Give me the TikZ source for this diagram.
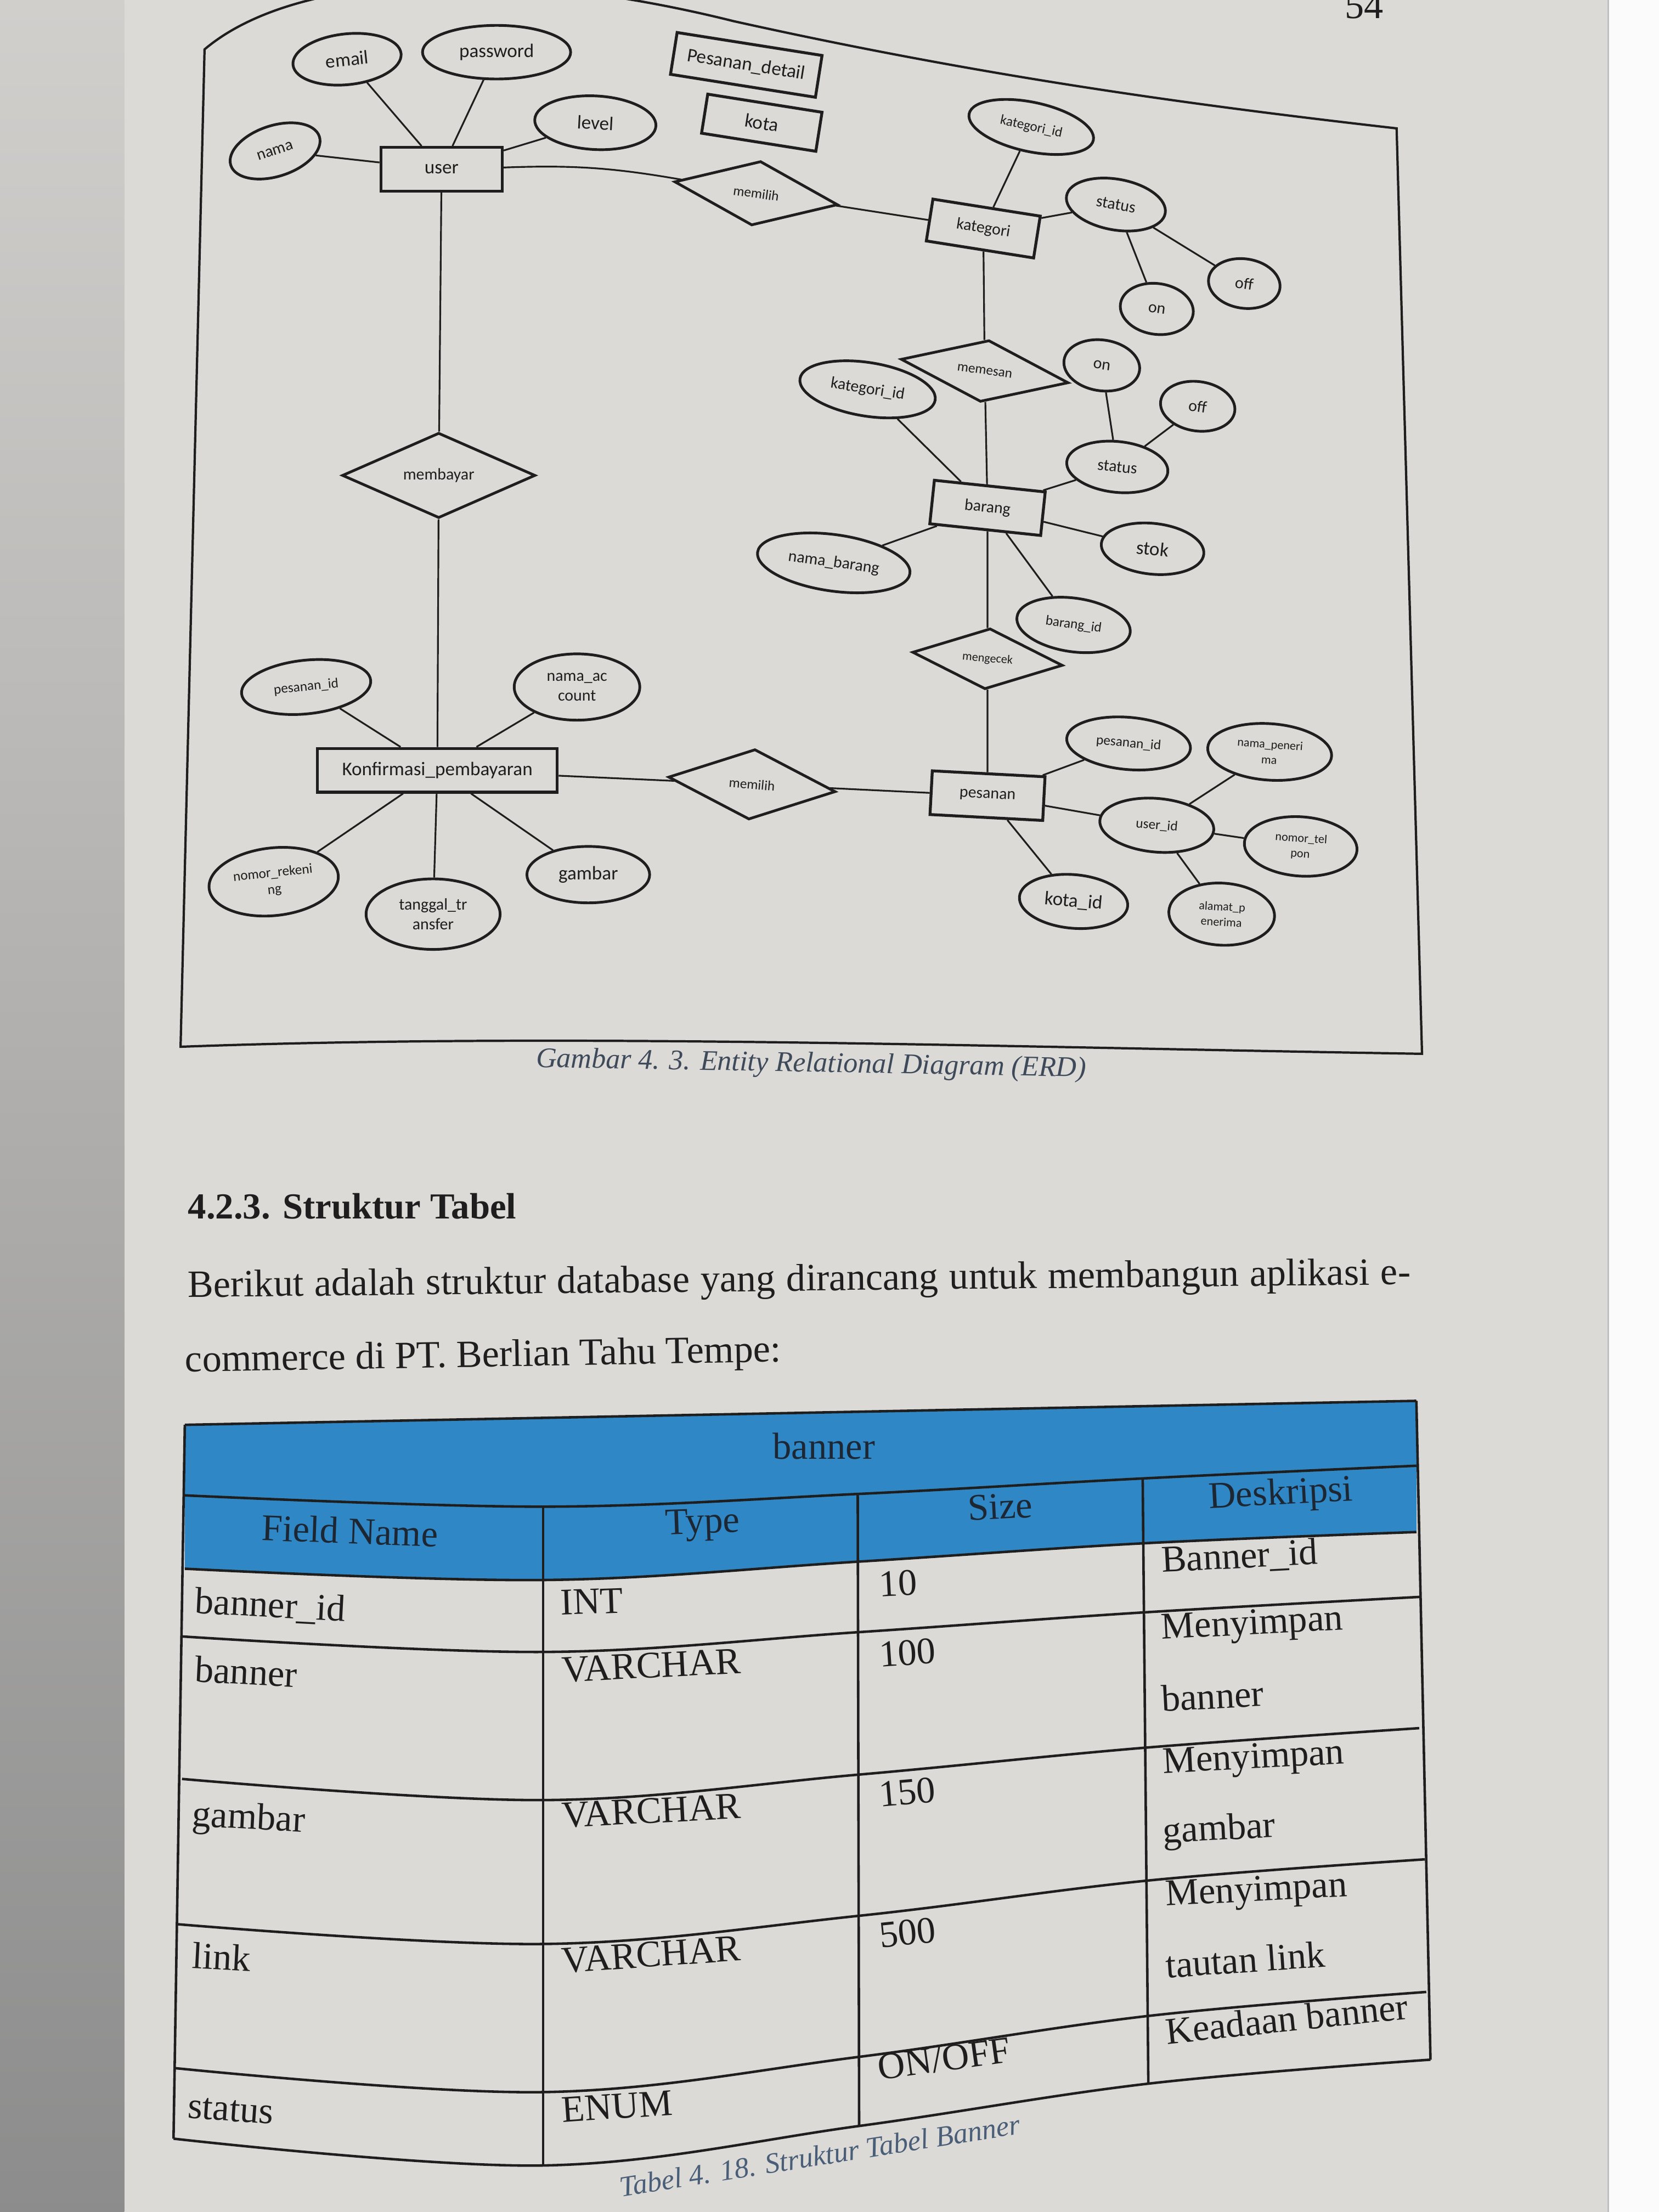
\documentclass[tikz,border=0pt]{standalone}
\usepackage{fontspec}
\setmainfont{Liberation Serif}
\newfontfamily\erdfont{Carlito}
\usetikzlibrary{shapes.geometric}

\definecolor{pagegray}{HTML}{DCDAD7}
\definecolor{ink}{HTML}{1E1E1E}
\definecolor{hdrblue}{HTML}{2F88C5}
\definecolor{hdrink}{HTML}{1C2733}
\definecolor{capink}{HTML}{3E4A5A}
\definecolor{tabcap}{HTML}{4A5E78}

% one pixel of the page photo
\newcommand{\pxl}{0.7316pt}

\begin{document}
\begin{tikzpicture}[x=0.025714cm, y=-0.025714cm,
    entity/.style={rectangle, draw=ink, line width=1.5pt, inner sep=0pt, text=ink},
    attr/.style={ellipse, draw=ink, line width=1.4pt, inner sep=0pt, text=ink, align=center},
    rel/.style={diamond, draw=ink, line width=1.4pt, inner sep=0pt, text=ink},
    sz/.style 2 args={minimum width=#1*\pxl, minimum height=#2*\pxl},
    conn/.style={draw=ink, line width=0.9pt},
    fA/.style={font=\erdfont\fontsize{10}{11}\selectfont},
    fB/.style={font=\erdfont\fontsize{8.5}{10}\selectfont},
    fC/.style={font=\erdfont\fontsize{7.2}{8.6}\selectfont},
    fD/.style={font=\erdfont\fontsize{6.3}{8}\selectfont},
    cell/.style={font=\fontsize{19.5}{22}\selectfont, text=ink, inner sep=0pt, anchor=west},
    hcell/.style={font=\fontsize{19.5}{22}\selectfont, text=hdrink, inner sep=0pt},
    tblline/.style={draw=ink, line width=1.3pt}]

    % Page and background
    \useasboundingbox (0,0) rectangle (1176,1568);
    \clip (0,0) rectangle (1176,1568);
    \fill[pagegray] (0,0) rectangle (1176,1568);
    \shade[top color=pagegray!95!black, bottom color=black!45] (0,0) rectangle (88,1568);
    \fill[white!90!pagegray] (1140,0) rectangle (1176,1568);
    \draw[black!25, line width=0.6pt] (1140,0) -- (1140,1568);

    % Page number
    \node[font=\fontsize{20}{22}\selectfont, anchor=base, text=ink] (pgnum) at (967,13) {54};

    % Diagram frame
    \draw[ink, line width=1.2pt] (128,742) -- (145,35)
        .. controls (210,-20) and (360,-25) .. (520,15)
        .. controls (700,55) and (850,75) .. (990,91)
        -- (1008,747) .. controls (700,742) and (400,732) .. cycle;

    % Entities
    \node[entity, sz={86}{31}, fA] (user) at (313,120) {user};
    \node[entity, sz={104}{30}, fA, rotate=-9] (pdetail) at (529,46) {Pesanan\_detail};
    \node[entity, sz={82}{28}, fA, rotate=-9] (kota) at (540,87) {kota};
    \node[entity, sz={77}{30}, fB, rotate=-9] (kategori) at (697,162) {kategori};
    \node[entity, sz={79}{31}, fB, rotate=-6] (barang) at (700,360) {barang};
    \node[entity, sz={80}{31}, fB, rotate=-3] (pesanan) at (700,564) {pesanan};
    \node[entity, sz={170}{31}, fA] (konfirmasi) at (310,546) {Konfirmasi\_pembayaran};

    % Relationships
    \node[rel, sz={117}{46}, fC, rotate=-8] (pilih1) at (536,137) {memilih};
    \node[rel, sz={120}{44}, fC, rotate=-8] (pesan) at (698,263) {memesan};
    \node[rel, sz={107}{42}, fD, rotate=-5] (cek) at (700,467) {mengecek};
    \node[rel, sz={119}{50}, fC, rotate=-5] (pilih2) at (533,556) {memilih};
    \node[rel, sz={137}{48}, fB] (bayar) at (311,337) {membayar};

    % Attributes of user
    \node[attr, sz={66}{36}, fB, rotate=18] (nama) at (195,107) {nama};
    \node[attr, sz={77}{36}, fA, rotate=6] (email) at (246,42) {email};
    \node[attr, sz={105}{38}, fA] (password) at (352,37) {password};
    \node[attr, sz={86}{38}, fA, rotate=-3] (level) at (422,87) {level};

    % Attributes of kategori
    \node[attr, sz={90}{35}, fC, rotate=-12] (katid1) at (731,90) {kategori\_id};
    \node[attr, sz={71}{36}, fB, rotate=-10] (stat1) at (791,145) {status};
    \node[attr, sz={51}{35}, fB, rotate=-8] (off1) at (882,201) {off};
    \node[attr, sz={52}{36}, fB, rotate=-8] (on1) at (820,219) {on};

    % Attributes of barang
    \node[attr, sz={97}{38}, fB, rotate=-9] (katid2) at (615,276) {kategori\_id};
    \node[attr, sz={54}{36}, fB, rotate=-8] (on2) at (781,259) {on};
    \node[attr, sz={53}{35}, fB, rotate=-8] (off2) at (849,288) {off};
    \node[attr, sz={72}{36}, fB, rotate=-6] (stat2) at (792,331) {status};
    \node[attr, sz={73}{36}, fA, rotate=-6] (stok) at (817,389) {stok};
    \node[attr, sz={109}{40}, fB, rotate=-8] (nmbarang) at (591,399) {nama\_barang};
    \node[attr, sz={81}{38}, fC, rotate=-8] (barangid) at (761,443) {barang\_id};

    % Attributes of pesanan
    \node[attr, sz={88}{37}, fC, rotate=-5] (psnid1) at (800,527) {pesanan\_id};
    \node[attr, sz={88}{40}, fD, rotate=-4] (penerima) at (900,533) {nama\_peneri\\ma};
    \node[attr, sz={81}{38}, fC, rotate=-5] (userid) at (820,585) {user\_id};
    \node[attr, sz={80}{42}, fD, rotate=-4] (telpon) at (922,600) {nomor\_tel\\pon};
    \node[attr, sz={77}{38}, fA, rotate=-5] (kotaid) at (761,639) {kota\_id};
    \node[attr, sz={75}{44}, fD, rotate=-3] (alamat) at (866,648) {alamat\_p\\enerima};

    % Attributes of Konfirmasi_pembayaran
    \node[attr, sz={92}{38}, fC, rotate=6] (psnid2) at (217,487) {pesanan\_id};
    \node[attr, sz={89}{47}, fB] (account) at (409,487) {nama\_ac\\count};
    \node[attr, sz={92}{48}, fC, rotate=6] (rekening) at (194,625) {nomor\_rekeni\\ng};
    \node[attr, sz={95}{50}, fB] (tanggal) at (307,648) {tanggal\_tr\\ansfer};
    \node[attr, sz={87}{40}, fA] (gambar) at (417,620) {gambar};

    % Connectors
    \draw[conn] (user) -- (nama);
    \draw[conn] (user) -- (email);
    \draw[conn] (user) -- (password);
    \draw[conn] (user) -- (level);
    \draw[conn] (user) to[bend left=6] (pilih1);
    \draw[conn] (pilih1) -- (kategori);
    \draw[conn] (kategori) -- (katid1);
    \draw[conn] (kategori) -- (stat1);
    \draw[conn] (stat1) -- (on1);
    \draw[conn] (stat1) -- (off1);
    \draw[conn] (kategori) -- (pesan);
    \draw[conn] (pesan) -- (barang);
    \draw[conn] (barang) -- (katid2);
    \draw[conn] (barang) -- (nmbarang);
    \draw[conn] (barang) -- (stat2);
    \draw[conn] (stat2) -- (on2);
    \draw[conn] (stat2) -- (off2);
    \draw[conn] (barang) -- (stok);
    \draw[conn] (barang) -- (barangid);
    \draw[conn] (barang) -- (cek);
    \draw[conn] (cek) -- (pesanan);
    \draw[conn] (pesanan) -- (psnid1);
    \draw[conn] (pesanan) -- (userid);
    \draw[conn] (pesanan) -- (kotaid);
    \draw[conn] (userid) -- (penerima);
    \draw[conn] (userid) -- (telpon);
    \draw[conn] (userid) -- (alamat);
    \draw[conn] (pilih2) -- (pesanan);
    \draw[conn] (konfirmasi) -- (pilih2);
    \draw[conn] (user) -- (bayar);
    \draw[conn] (bayar) -- (konfirmasi);
    \draw[conn] (konfirmasi) -- (psnid2);
    \draw[conn] (konfirmasi) -- (account);
    \draw[conn] (konfirmasi) -- (rekening);
    \draw[conn] (konfirmasi) -- (tanggal);
    \draw[conn] (konfirmasi) -- (gambar);

    % Captions and text
    \node[font=\itshape\fontsize{14.8}{17}\selectfont, text=capink, rotate=-1] (erdcap) at (575,755)
        {Gambar 4. 3. Entity Relational Diagram (ERD)};
    \node[font=\bfseries\fontsize{19}{22}\selectfont, text=ink, anchor=west, inner sep=0pt] (heading) at (133,855)
        {4.2.3. Struktur Tabel};
    \node[font=\fontsize{20}{22}\selectfont, text=ink, anchor=west, inner sep=0pt, rotate=0.6] (para1) at (133,913)
        {\makebox[634pt][s]{Berikut adalah struktur database yang dirancang untuk membangun aplikasi e-}};
    \node[font=\fontsize{20}{22}\selectfont, text=ink, anchor=west, inner sep=0pt, rotate=1] (para2) at (131,966)
        {commerce di PT. Berlian Tahu Tempe:};

    % Table header fill
    \fill[hdrblue] (131,1010) -- (1004,993) -- plot[smooth, tension=0.6] coordinates
        {(1004,1086) (810,1094) (608,1107) (385,1120) (131,1112)} -- cycle;

    % Table lines
    \draw[tblline] (131,1010) -- (1004,993);
    \draw[tblline] plot[smooth, tension=0.6] coordinates {(131,1060) (385,1068) (608,1059) (810,1048) (1004,1039)};
    \draw[tblline] plot[smooth, tension=0.6] coordinates {(131,1112) (385,1120) (608,1107) (810,1094) (1004,1086)};
    \draw[tblline] plot[smooth, tension=0.6] coordinates {(129,1160) (385,1171) (608,1157) (810,1143) (1006,1132)};
    \draw[tblline] plot[smooth, tension=0.6] coordinates {(129,1261) (385,1276) (608,1258) (810,1239) (1006,1225)};
    \draw[tblline] plot[smooth, tension=0.6] coordinates {(126,1364) (385,1378) (609,1358) (814,1333) (1010,1318)};
    \draw[tblline] plot[smooth, tension=0.6] coordinates {(124,1466) (385,1483) (609,1458) (814,1429) (1011,1412)};
    \draw[tblline] plot[smooth, tension=0.6] coordinates {(123,1516) (385,1535) (609,1507) (814,1477) (1014,1460)};
    \draw[tblline] (131,1010) -- (123,1516);
    \draw[tblline] (385,1068) -- (385,1535);
    \draw[tblline] (608,1059) -- (609,1507);
    \draw[tblline] (810,1048) -- (814,1477);
    \draw[tblline] (1004,993) -- (1014,1460);

    % Table header text
    \node[hcell] (hbanner) at (584,1025) {banner};
    \node[hcell, rotate=-2] (hfield) at (248,1085) {Field Name};
    \node[hcell, rotate=2] (htype) at (498,1081) {Type};
    \node[hcell, rotate=3] (hsize) at (709,1068) {Size};
    \node[hcell, rotate=3] (hdesc) at (908,1060) {Deskripsi};

    % Table rows
    \node[cell, rotate=-3] (f1) at (138,1136) {banner\_id};
    \node[cell, rotate=2] (t1) at (397,1136) {INT};
    \node[cell, rotate=3] (s1) at (623,1123) {10};
    \node[cell, rotate=3] (d1) at (823,1107) {Banner\_id};

    \node[cell, rotate=-3] (f2) at (138,1183) {banner};
    \node[cell, rotate=3] (t2) at (398,1184) {VARCHAR};
    \node[cell, rotate=4] (s2) at (623,1173) {100};
    \node[cell, rotate=3] (d2a) at (823,1156) {Menyimpan};
    \node[cell, rotate=3] (d2b) at (823,1204) {banner};

    \node[cell, rotate=-3] (f3) at (136,1288) {gambar};
    \node[cell, rotate=3] (t3) at (398,1287) {VARCHAR};
    \node[cell, rotate=5] (s3) at (623,1272) {150};
    \node[cell, rotate=3] (d3a) at (824,1251) {Menyimpan};
    \node[cell, rotate=3] (d3b) at (824,1300) {gambar};

    \node[cell, rotate=-3] (f4) at (136,1386) {link};
    \node[cell, rotate=4] (t4) at (398,1390) {VARCHAR};
    \node[cell, rotate=6] (s4) at (623,1372) {500};
    \node[cell, rotate=3] (d4a) at (826,1345) {Menyimpan};
    \node[cell, rotate=4] (d4b) at (826,1393) {tautan link};

    \node[cell, rotate=-4] (f5) at (133,1494) {status};
    \node[cell, rotate=4] (t5) at (398,1496) {ENUM};
    \node[cell, rotate=8] (s5) at (622,1466) {ON/OFF};
    \node[cell, rotate=6] (d5) at (826,1440) {Keadaan banner};

    % Table caption
    \node[font=\itshape\fontsize{15}{17}\selectfont, text=tabcap, rotate=9] (tabcap) at (581,1528)
        {Tabel 4. 18. Struktur Tabel Banner};
\end{tikzpicture}
\end{document}
